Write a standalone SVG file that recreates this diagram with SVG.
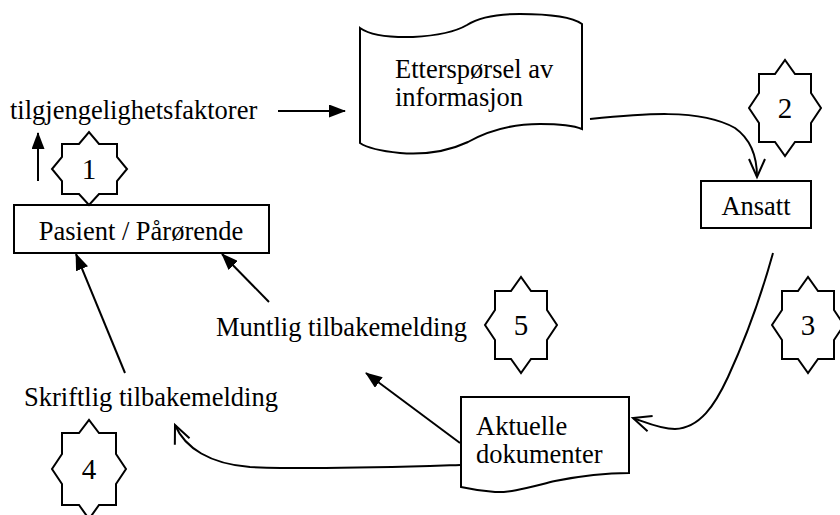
<svg xmlns="http://www.w3.org/2000/svg" width="840" height="515" viewBox="0 0 840 515">
<style>
.t{font-family:'Liberation Serif','Times New Roman',Times,serif;font-size:26.5px;fill:#000}
.n{font-family:'Liberation Serif','Times New Roman',Times,serif;font-size:29px;fill:#000;text-anchor:middle}
.s{fill:#fff;stroke:#000;stroke-width:2;stroke-linejoin:miter}
.c{fill:none;stroke:#000;stroke-width:2}
</style>
<defs>
<marker id="fa" markerUnits="userSpaceOnUse" markerWidth="17" markerHeight="13" refX="16" refY="6.5" orient="auto">
<path d="M0,0 L17,6.5 L0,13 z" fill="#000"/>
</marker>
<marker id="oa" markerUnits="userSpaceOnUse" markerWidth="22" markerHeight="20" refX="19" refY="10" orient="auto">
<path d="M1,2 L19,10 L1,18" fill="none" stroke="#000" stroke-width="2"/>
</marker>
</defs>
<rect width="840" height="515" fill="#fff"/>

<g id="label-tilgjengelighet"><text class="t" x="10" y="119">tilgjengelighetsfaktorer</text></g>

<g id="node-etterspørsel">
<path class="s" d="M360,28 Q374,38 413,37 Q450,35 467,25 Q484,14 520,14 Q568,14 582,24 L582,129 Q570,124 540,124 Q500,124 468,142 Q438,156 400,153 Q370,150 360,143 Z"/>
<text class="t" x="395" y="78">Etterspørsel av</text>
<text class="t" x="395" y="106">informasjon</text>
</g>

<g id="node-ansatt">
<rect class="s" x="701" y="181" width="110" height="47"/>
<text class="t" x="756" y="215" text-anchor="middle">Ansatt</text>
</g>

<g id="node-pasient">
<rect class="s" x="14" y="205" width="255" height="48"/>
<text class="t" x="141" y="240" text-anchor="middle">Pasient / Pårørende</text>
</g>

<g id="node-aktuelle">
<path class="s" d="M461,397 L629,397 L629,473 C600,473 580,476 555,481 C530,487 510,493 495,492 C480,491 470,489 461,487 Z"/>
<text class="t" x="476" y="435">Aktuelle</text>
<text class="t" x="476" y="463">dokumenter</text>
</g>

<g id="label-muntlig"><text class="t" x="216" y="336">Muntlig tilbakemelding</text></g>
<g id="label-skriftlig"><text class="t" x="24" y="406">Skriftlig tilbakemelding</text></g>

<g id="star-1">
<path class="s" d="M62,144 L79,144 L89,132 L99,144 L117,144 L117,157 L127,169 L117,181 L117,194 L99,194 L89,205 L79,194 L62,194 L62,181 L52,169 L62,157 Z"/>
<text class="n" x="89" y="179">1</text>
</g>
<g id="star-2">
<path class="s" d="M759,74 L775,74 L785,60 L795,74 L811,74 L811,93 L821,108 L811,123 L811,142 L795,142 L785,156 L775,142 L759,142 L759,123 L749,108 L759,93 Z"/>
<text class="n" x="785" y="118">2</text>
</g>
<g id="star-3">
<path class="s" d="M782,291 L798,291 L808,277 L818,291 L834,291 L834,310 L844,325 L834,340 L834,359 L818,359 L808,373 L798,359 L782,359 L782,340 L772,325 L782,310 Z"/>
<text class="n" x="808" y="335">3</text>
</g>
<g id="star-4">
<path class="s" d="M62,433 L79,433 L89,420 L99,433 L116,433 L116,454 L126,469 L116,484 L116,505 L99,505 L89,519 L79,505 L62,505 L62,484 L52,469 L62,454 Z"/>
<text class="n" x="89" y="479">4</text>
</g>
<g id="star-5">
<path class="s" d="M495,291 L511,291 L521,277 L531,291 L547,291 L547,310 L557,325 L547,340 L547,359 L531,359 L521,373 L511,359 L495,359 L495,340 L485,325 L495,310 Z"/>
<text class="n" x="521" y="335">5</text>
</g>

<g id="connectors">
<line class="c" x1="278" y1="111" x2="345" y2="111" marker-end="url(#fa)"/>
<line class="c" x1="38" y1="181" x2="38" y2="133" marker-end="url(#fa)"/>
<path class="c" d="M590,119 C640,114 700,108 735,128 C752,140 757,158 757,177" marker-end="url(#oa)"/>
<path class="c" d="M773,253 C760,300 745,340 728,377 C715,405 700,428 675,429 C660,429 645,422 633,418" marker-end="url(#oa)"/>
<line class="c" x1="460" y1="443" x2="366" y2="373" marker-end="url(#fa)"/>
<path class="c" d="M460,465 C400,467 320,470 250,467 C210,464 185,448 175,425" marker-end="url(#oa)"/>
<line class="c" x1="269" y1="302" x2="222" y2="254" marker-end="url(#fa)"/>
<line class="c" x1="125" y1="373" x2="76" y2="254" marker-end="url(#fa)"/>
</g>
</svg>
